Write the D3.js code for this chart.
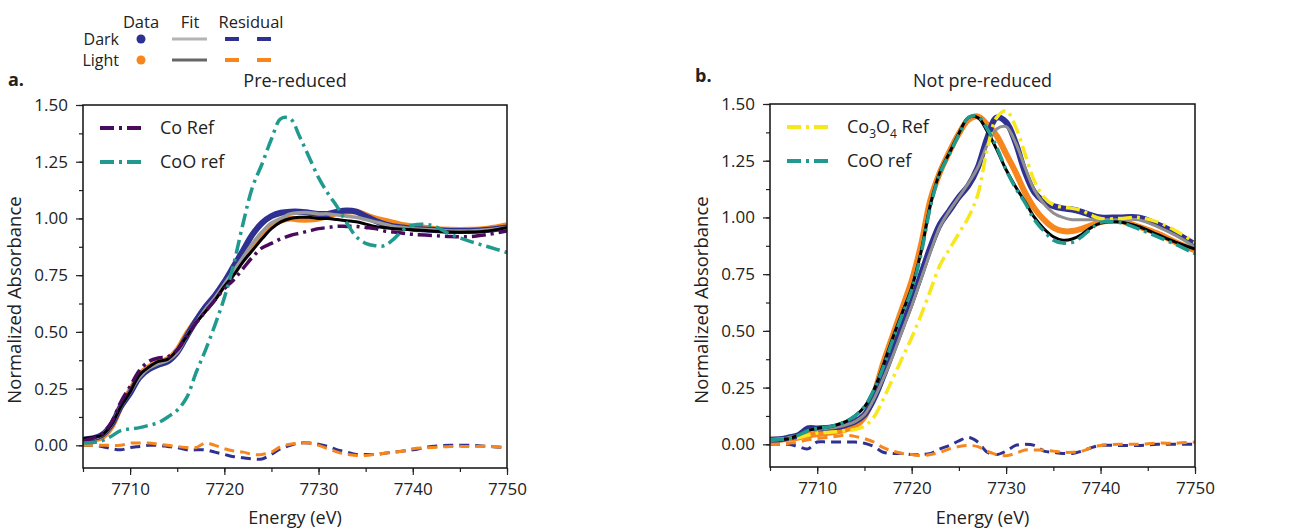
<!DOCTYPE html>
<html>
<head>
<meta charset="utf-8">
<script src="https://cdn.jsdelivr.net/npm/d3@7"></script>
<style>
body{margin:0;background:#fff;}
text{font-family:"Open Sans",sans-serif;fill:#222;}
</style>
</head>
<body>
<svg class="chart"></svg>
<script>
// energy grid (eV) shared by every curve
var energy = [7705,7706,7707,7708,7709,7710,7711,7712,7713,7714,7715,7716,7717,7718,7719,7720,7721,7722,7723,7724,7725,7726,7727,7728,7729,7730,7731,7732,7733,7734,7735,7736,7737,7738,7739,7740,7742,7744,7746,7748,7750];
var yTicks = [0,0.25,0.5,0.75,1.0,1.25,1.5];
var xTicks = [7710,7720,7730,7740,7750];

// a. pre-reduced
var aCoRef = [0.02,0.03,0.05,0.10,0.19,0.26,0.33,0.37,0.385,0.39,0.42,0.48,0.54,0.59,0.64,0.69,0.73,0.78,0.83,0.87,0.89,0.91,0.925,0.935,0.945,0.955,0.96,0.965,0.965,0.965,0.96,0.955,0.945,0.94,0.935,0.93,0.925,0.92,0.92,0.93,0.945];
var aCoO = [0.01,0.012,0.02,0.04,0.065,0.072,0.078,0.088,0.10,0.125,0.155,0.21,0.32,0.42,0.53,0.65,0.80,0.98,1.14,1.24,1.35,1.44,1.44,1.36,1.27,1.18,1.11,1.05,0.98,0.92,0.89,0.88,0.88,0.91,0.95,0.97,0.97,0.93,0.90,0.875,0.85];
var aDark = [0.025,0.03,0.045,0.09,0.17,0.23,0.30,0.335,0.355,0.37,0.41,0.48,0.55,0.61,0.66,0.72,0.79,0.86,0.93,0.98,1.01,1.025,1.03,1.03,1.025,1.02,1.02,1.03,1.035,1.03,1.01,0.99,0.975,0.965,0.96,0.955,0.95,0.945,0.945,0.95,0.96];
var aLight = [0.02,0.025,0.035,0.08,0.17,0.24,0.31,0.345,0.365,0.38,0.42,0.49,0.55,0.60,0.65,0.71,0.77,0.83,0.88,0.93,0.97,0.99,1.0,0.995,0.995,1.0,1.01,1.025,1.03,1.03,1.015,1.0,0.99,0.98,0.97,0.965,0.955,0.95,0.95,0.955,0.97];
var aFitDark = [0.025,0.03,0.045,0.09,0.17,0.235,0.30,0.34,0.36,0.375,0.41,0.48,0.54,0.60,0.65,0.71,0.77,0.83,0.89,0.94,0.98,1.0,1.02,1.025,1.025,1.02,1.02,1.015,1.01,1.005,0.995,0.985,0.975,0.965,0.96,0.955,0.95,0.945,0.945,0.95,0.96];
var aFitLight = [0.03,0.035,0.045,0.09,0.17,0.235,0.31,0.345,0.37,0.38,0.42,0.48,0.54,0.59,0.64,0.70,0.75,0.81,0.86,0.91,0.955,0.985,1.0,1.005,1.005,1.0,1.0,0.995,0.99,0.985,0.975,0.965,0.96,0.955,0.952,0.95,0.945,0.94,0.94,0.945,0.96];
var aResDark = [0.0,0.0,-0.005,-0.015,-0.02,-0.01,-0.005,0.0,0.0,-0.005,-0.01,-0.02,-0.02,-0.02,-0.03,-0.04,-0.05,-0.055,-0.06,-0.06,-0.04,-0.015,0.0,0.01,0.01,0.005,-0.005,-0.02,-0.03,-0.04,-0.04,-0.04,-0.035,-0.03,-0.025,-0.02,-0.005,0.0,0.0,-0.005,-0.01];
var aResLight = [0.0,0.0,0.0,0.0,0.0,0.01,0.01,0.01,0.005,0.0,-0.005,-0.01,-0.01,0.01,0.0,-0.015,-0.025,-0.03,-0.04,-0.04,-0.03,-0.005,0.005,0.01,0.01,0.0,-0.015,-0.03,-0.04,-0.045,-0.045,-0.04,-0.035,-0.03,-0.025,-0.015,-0.01,-0.005,-0.005,-0.005,-0.01];

// b. not pre-reduced
var bCo3O4 = [0.02,0.022,0.025,0.03,0.04,0.05,0.052,0.055,0.06,0.065,0.08,0.12,0.20,0.29,0.38,0.47,0.57,0.68,0.79,0.86,0.93,1.0,1.1,1.3,1.44,1.47,1.40,1.28,1.16,1.09,1.055,1.045,1.04,1.03,1.01,0.995,0.995,1.0,0.98,0.94,0.89];
var bCoO = [0.02,0.022,0.025,0.04,0.06,0.07,0.075,0.085,0.10,0.125,0.166,0.24,0.34,0.46,0.57,0.68,0.84,1.05,1.195,1.28,1.365,1.44,1.445,1.39,1.31,1.21,1.13,1.065,0.99,0.94,0.90,0.887,0.89,0.915,0.95,0.978,0.978,0.95,0.915,0.88,0.84];
var bDark = [0.02,0.022,0.03,0.04,0.07,0.07,0.072,0.075,0.085,0.10,0.13,0.20,0.30,0.41,0.52,0.63,0.75,0.87,0.97,1.03,1.09,1.14,1.22,1.35,1.44,1.42,1.33,1.20,1.11,1.07,1.05,1.04,1.035,1.025,1.01,1.0,1.0,1.0,0.97,0.93,0.88];
var bLight = [0.02,0.02,0.025,0.03,0.04,0.045,0.05,0.055,0.065,0.08,0.12,0.22,0.36,0.48,0.60,0.72,0.88,1.08,1.20,1.29,1.37,1.43,1.445,1.41,1.36,1.28,1.20,1.11,1.04,0.99,0.955,0.94,0.94,0.95,0.965,0.98,0.985,0.96,0.93,0.89,0.855];
var bFitDark = [0.02,0.022,0.03,0.04,0.06,0.065,0.07,0.075,0.085,0.10,0.13,0.20,0.29,0.39,0.50,0.61,0.73,0.85,0.96,1.03,1.09,1.15,1.22,1.32,1.39,1.40,1.33,1.22,1.12,1.06,1.02,1.0,0.99,0.99,0.99,0.99,0.99,0.99,0.96,0.92,0.87];
var bFitLight = [0.02,0.022,0.025,0.04,0.06,0.07,0.075,0.085,0.10,0.125,0.165,0.24,0.35,0.47,0.58,0.69,0.85,1.06,1.20,1.285,1.37,1.44,1.44,1.38,1.30,1.21,1.135,1.07,1.0,0.95,0.915,0.90,0.905,0.925,0.955,0.975,0.98,0.96,0.925,0.89,0.86];
var bResDark = [0.0,0.0,0.0,-0.01,-0.02,0.01,0.01,0.01,0.01,0.01,0.005,-0.01,-0.035,-0.04,-0.04,-0.045,-0.045,-0.04,-0.02,-0.005,0.015,0.03,0.01,-0.035,-0.045,-0.03,-0.005,0.0,-0.005,-0.03,-0.035,-0.04,-0.04,-0.03,-0.015,-0.005,-0.005,-0.005,0.0,0.0,0.0];
var bResLight = [0.0,0.0,0.005,0.01,0.02,0.025,0.03,0.035,0.04,0.035,0.025,0.01,-0.015,-0.03,-0.04,-0.045,-0.05,-0.045,-0.035,-0.02,-0.01,-0.005,-0.01,-0.03,-0.045,-0.05,-0.04,-0.025,-0.025,-0.025,-0.03,-0.035,-0.035,-0.03,-0.015,-0.005,0.0,0.0,0.005,0.005,0.01];

var navy = "#2e3192", orange = "#f7861c", purple = "#4a0b5e", teal = "#20998f", yellow = "#f8e71c";
var dashDot = "14,5,3,5";

var svg = d3.select(".chart").attr("width",1289).attr("height",530);

function zip(vals){
    return energy.map(function(e,i){ return [e, vals[i]]; });
}

function panel(id, left, top, w, h, label, title, curves, refs){
    var x = d3.scaleLinear().domain([7705,7750]).range([left,left+w]);
    var y = d3.scaleLinear().domain([-0.1,1.5]).range([top+h,top]);
    var line = d3.line()
        .x(function(d){ return x(d[0]); })
        .y(function(d){ return y(d[1]); })
        .curve(d3.curveCatmullRom);

    svg.append("clipPath").attr("id","clip"+id)
      .append("rect").attr("x",left).attr("y",top).attr("width",w).attr("height",h);

    var plot = svg.append("g").attr("clip-path","url(#clip"+id+")");
    curves.concat(refs).forEach(function(c){
        plot.append("path")
          .attr("d", line(zip(c.v)))
          .attr("fill","none")
          .attr("stroke", c.color)
          .attr("stroke-width", c.w)
          .attr("stroke-dasharray", c.dash || null)
          .attr("stroke-linejoin","round");
    });

    // axes
    var ax = svg.append("g").attr("transform","translate(0,"+(top+h)+")")
      .call(d3.axisBottom(x).tickValues(xTicks).tickFormat(d3.format("d")).tickSize(7).tickPadding(8));
    svg.append("g").attr("transform","translate(0,"+(top+h)+")")
      .call(d3.axisBottom(x).tickValues(d3.range(7705,7751,5)).tickFormat("").tickSize(4));
    var ay = svg.append("g").attr("transform","translate("+left+",0)")
      .call(d3.axisLeft(y).tickValues(yTicks).tickFormat(d3.format(".2f")).tickSize(7).tickPadding(8));
    svg.append("g").attr("transform","translate("+left+",0)")
      .call(d3.axisLeft(y).tickValues(d3.range(0,1.51,0.125)).tickFormat("").tickSize(4));
    svg.selectAll(".domain").remove();
    svg.selectAll(".tick line").attr("stroke","#222").attr("stroke-width",1.2);
    ax.selectAll("text").attr("font-size",17).attr("font-family","Open Sans").attr("fill","#222");
    ay.selectAll("text").attr("font-size",17).attr("font-family","Open Sans").attr("fill","#222");

    svg.append("rect").attr("x",left).attr("y",top).attr("width",w).attr("height",h)
      .attr("fill","none").attr("stroke","#111").attr("stroke-width",1.5);

    svg.append("text").attr("x",left+w/2).attr("y",524).attr("text-anchor","middle")
      .attr("font-size",18).text("Energy (eV)");
    svg.append("text").attr("transform","translate("+(left-62)+",300) rotate(-90)")
      .attr("text-anchor","middle").attr("font-size",18.5).text("Normalized Absorbance");
    svg.append("text").attr("x",left+w/2).attr("y",87).attr("text-anchor","middle")
      .attr("font-size",18).text(title);
    svg.append("text").attr("x",label.x).attr("y",label.y).attr("font-size",18)
      .attr("font-weight","bold").text(label.t);

    // reference legend
    refs.forEach(function(c,i){
        var ly = top + 23 + i*34;
        svg.append("line").attr("x1",left+17).attr("x2",left+60).attr("y1",ly).attr("y2",ly)
          .attr("stroke",c.color).attr("stroke-width",4).attr("stroke-dasharray",dashDot);
        var t = svg.append("text").attr("x",left+77).attr("y",ly+6).attr("font-size",18);
        c.name.forEach(function(p){
            var s = t.append("tspan").text(p[0]);
            if(p[1]) s.attr("font-size",12).attr("dy",5);
            else if(p[2]) s.attr("dy",-5);
        });
    });
}

panel("a", 83, 105, 424, 363, {t:"a.",x:8,y:86}, "Pre-reduced", [
    {v:aLight, color:orange, w:6},
    {v:aDark, color:navy, w:6},
    {v:aFitDark, color:"#9a9a9a", w:3.5},
    {v:aFitLight, color:"#000", w:3},
    {v:aResDark, color:navy, w:3, dash:"10,6"},
    {v:aResLight, color:orange, w:3, dash:"10,6"}
], [
    {v:aCoRef, color:purple, w:3.5, dash:dashDot, name:[["Co Ref"]]},
    {v:aCoO, color:teal, w:3.5, dash:dashDot, name:[["CoO ref"]]}
]);

panel("b", 770, 104, 425, 363, {t:"b.",x:695,y:82}, "Not pre-reduced", [
    {v:bLight, color:orange, w:6},
    {v:bDark, color:navy, w:6},
    {v:bFitDark, color:"#8f8f8f", w:3},
    {v:bFitLight, color:"#000", w:3},
    {v:bResDark, color:navy, w:3, dash:"10,6"},
    {v:bResLight, color:orange, w:3, dash:"10,6"}
], [
    {v:bCo3O4, color:yellow, w:3.5, dash:dashDot, name:[["Co"],["3",1],["O",0,1],["4",1],[" Ref",0,1]]},
    {v:bCoO, color:teal, w:3.5, dash:dashDot, name:[["CoO ref"]]}
]);

// top legend
var leg = svg.append("g");
[["Data",141],["Fit",190],["Residual",251]].forEach(function(d){
    leg.append("text").attr("x",d[1]).attr("y",28).attr("text-anchor","middle").attr("font-size",16.5).text(d[0]);
});
[["Dark",45,navy,"#b4b4b4"],["Light",66,orange,"#666"]].forEach(function(d){
    var ly = d[1]-6;
    leg.append("text").attr("x",119).attr("y",d[1]).attr("text-anchor","end").attr("font-size",16).text(d[0]);
    leg.append("circle").attr("cx",141).attr("cy",ly).attr("r",4.5).attr("fill",d[2]);
    leg.append("line").attr("x1",172).attr("x2",207).attr("y1",ly).attr("y2",ly).attr("stroke",d[3]).attr("stroke-width",3);
    leg.append("line").attr("x1",225).attr("x2",272).attr("y1",ly).attr("y2",ly).attr("stroke",d[2]).attr("stroke-width",4).attr("stroke-dasharray","14,18");
});
</script>
</body>
</html>
